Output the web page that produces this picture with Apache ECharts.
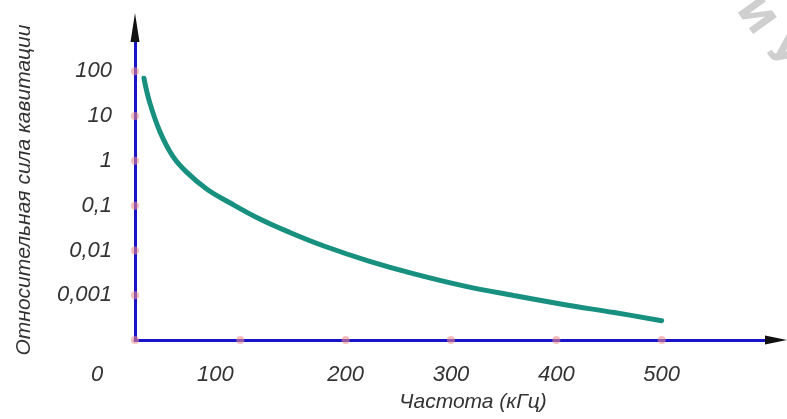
<!DOCTYPE html>
<html>
<head>
<meta charset="utf-8">
<script src="https://cdn.jsdelivr.net/npm/echarts@6/dist/echarts.min.js"></script>
<style>
html,body{margin:0;padding:0;background:#fff;}
#chart{width:787px;height:419px;}
</style>
</head>
<body>
<div id="chart"></div>
<script>
// Data
var frequency = [8.5, 14, 24, 36, 49, 68, 90, 118, 147, 180, 222, 265, 312, 360, 407, 455, 500];
var intensity = [70, 20, 4.3, 1.26, 0.56, 0.236, 0.116, 0.051, 0.0252, 0.0124, 0.0058, 0.003, 0.00162, 0.00098, 0.00062, 0.00041, 0.00027];
var xTickValues = [0, 100, 200, 300, 400, 500];
var xTickLabels = ['0', '100', '200', '300', '400', '500'];
var yTickValues = [0.001, 0.01, 0.1, 1, 10, 100];
var yTickLabels = ['0,001', '0,01', '0,1', '1', '10', '100'];
var xName = 'Частота (кГц)';
var yName = 'Относительная сила кавитации';

var Y_MIN = 0.0001, Y_MAX = 500, X_MAX = 600;
var AXIS_BLUE = '#1a14c8';
var TEXT = '#333333';
var numFont = '"Liberation Sans Narrow", "Liberation Sans", sans-serif';
var titleFont = '"Liberation Sans", "DejaVu Sans", sans-serif';

var lineData = frequency.map(function (f, i) { return [f, intensity[i]]; });
var tickDots = [];
xTickValues.forEach(function (v) { tickDots.push([v, Y_MIN]); });
yTickValues.forEach(function (v) { tickDots.push([0, v]); });

var chart = echarts.init(document.getElementById('chart'));
chart.setOption({
  animation: false,
  backgroundColor: '#ffffff',
  grid: { left: 135, right: 20, top: 40, bottom: 79, containLabel: false },
  xAxis: {
    type: 'value', min: 0, max: X_MAX, interval: 100,
    name: xName, nameLocation: 'middle', nameGap: 52,
    nameTextStyle: { fontFamily: titleFont, fontStyle: 'italic', fontSize: 21, color: TEXT, padding: [0, 0, 0, 44] },
    axisLine: { show: true, onZero: false, lineStyle: { color: AXIS_BLUE, width: 3 } },
    axisTick: { show: false },
    splitLine: { show: false },
    axisLabel: {
      margin: 24,
      fontFamily: numFont, fontStyle: 'italic', fontSize: 22, color: TEXT,
      formatter: function (v) {
        var i = xTickValues.indexOf(Math.round(v));
        if (i < 0) return '';
        if (i === 0) return '{z|' + xTickLabels[i] + '}';
        if (i === 1) return '{h|' + xTickLabels[i] + '}';
        return xTickLabels[i];
      },
      rich: {
        z: { fontFamily: numFont, fontStyle: 'italic', fontSize: 22, color: TEXT, padding: [0, 76, 0, 0] },
        h: { fontFamily: numFont, fontStyle: 'italic', fontSize: 22, color: TEXT, padding: [0, 50, 0, 0] }
      }
    }
  },
  yAxis: {
    type: 'log', logBase: 10, min: Y_MIN, max: Y_MAX,
    name: yName, nameLocation: 'middle', nameRotate: 90, nameGap: 100,
    nameTextStyle: { fontFamily: titleFont, fontStyle: 'italic', fontSize: 21, color: TEXT },
    axisLine: { show: true, lineStyle: { color: AXIS_BLUE, width: 3 } },
    axisTick: { show: false },
    splitLine: { show: false },
    minorSplitLine: { show: false },
    axisLabel: {
      margin: 23,
      fontFamily: numFont, fontStyle: 'italic', fontSize: 22, color: TEXT,
      formatter: function (v) {
        var e = Math.round(Math.log10(v));
        if (Math.abs(Math.log10(v) - e) > 1e-6) return '';
        for (var i = 0; i < yTickValues.length; i++) {
          if (Math.round(Math.log10(yTickValues[i])) === e) return yTickLabels[i];
        }
        return '';
      }
    }
  },
  series: [
    {
      type: 'line', data: lineData, smooth: 0.4, showSymbol: false,
      lineStyle: { color: '#18907f', width: 5, cap: 'round' }, z: 3
    },
    {
      type: 'scatter', data: tickDots, symbol: 'circle', symbolSize: 8,
      itemStyle: { color: 'rgba(242,140,140,0.7)' }, clip: false, z: 4, silent: true
    }
  ]
});

// Black arrowheads at the ends of both axes, positioned through the axes' scales
var xEnd = chart.convertToPixel({ gridIndex: 0 }, [X_MAX, Y_MIN]);
var yEnd = chart.convertToPixel({ gridIndex: 0 }, [0, Y_MAX]);
chart.setOption({
  graphic: [
    { type: 'polygon', shape: { points: [[xEnd[0] - 2, xEnd[1] - 4.5], [xEnd[0] + 20, xEnd[1]], [xEnd[0] - 2, xEnd[1] + 4.5]] }, style: { fill: '#111' }, z: 10 },
    { type: 'polygon', shape: { points: [[yEnd[0] - 4.5, yEnd[1] + 2], [yEnd[0], yEnd[1] - 27], [yEnd[0] + 4.5, yEnd[1] + 2]] }, style: { fill: '#111' }, z: 10 },
    { type: 'text', left: 728, top: -8, rotation: -0.95, style: { text: 'И У', font: 'bold 40px "DejaVu Sans", sans-serif', fill: '#cfcfcf' }, z: 0 }
  ]
});
</script>
</body>
</html>
